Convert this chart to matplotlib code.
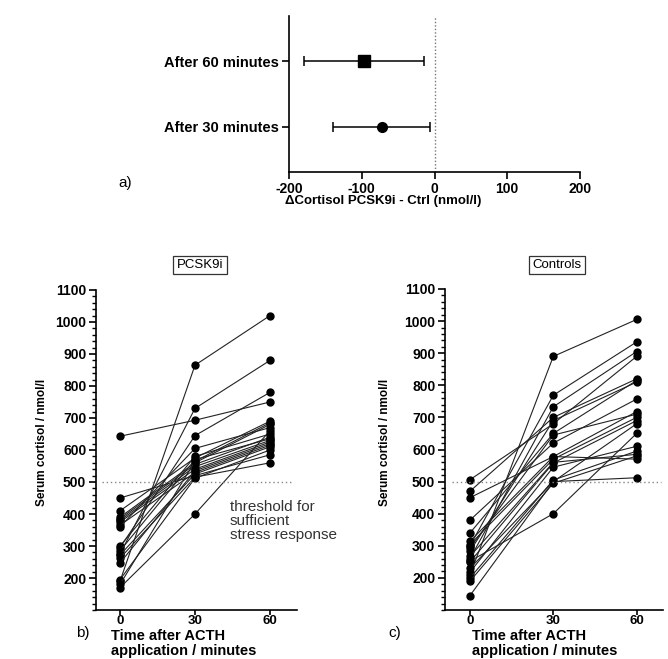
import matplotlib
matplotlib.use("Agg")
import matplotlib.pyplot as plt
from matplotlib.ticker import MultipleLocator

plt.rcParams['font.family'] = ['Liberation Sans', 'DejaVu Sans']

# ---- panel a: difference in cortisol (PCSK9i - Ctrl) with 95% CI ----
diff_labels = ["After 30 minutes", "After 60 minutes"]
diff_mean = [-72, -97]
diff_low = [-139, -179]
diff_high = [-6, -14]
diff_markers = ["o", "s"]

# ---- panels b/c: serum cortisol per subject at 0, 30, 60 min ----
times = [0, 30, 60]
pcsk9i = [
    [643, 693, 750], [190, 865, 1020], [275, 730, 880], [295, 645, 780],
    [170, 400, 660], [450, 520, 585], [410, 575, 690], [390, 560, 680],
    [385, 555, 640], [380, 548, 630], [375, 540, 625], [365, 530, 615],
    [360, 605, 670], [300, 580, 650], [285, 570, 635], [272, 525, 610],
    [262, 515, 560], [247, 535, 620], [195, 512, 600], [180, 565, 685],
]
controls = [
    [210, 890, 1005], [300, 769, 935], [260, 733, 905], [506, 680, 890],
    [470, 700, 820], [340, 650, 815], [283, 690, 810], [380, 620, 757],
    [450, 578, 718], [293, 645, 710], [304, 570, 700], [250, 558, 690],
    [145, 500, 680], [252, 400, 650], [218, 545, 610], [200, 505, 595],
    [267, 560, 585], [190, 495, 580], [314, 578, 570], [230, 500, 512],
]
threshold = 500

W, H = 668, 659
fig = plt.figure(figsize=(W / 100, H / 100), dpi=100)


def rect(l, t, r, b):
    return [l / W, 1 - b / H, (r - l) / W, (b - t) / H]


bold = dict(fontweight="bold")

# ---------------- panel a ----------------
ax = fig.add_axes(rect(289, 16, 580, 172))
for i, (m, lo, hi, mk) in enumerate(zip(diff_mean, diff_low, diff_high, diff_markers)):
    y = i + 1
    ax.errorbar([m], [y], xerr=[[m - lo], [hi - m]], fmt=mk, color="black",
                markersize=8 if mk == "s" else 7, capsize=3.5, elinewidth=1.1,
                capthick=1.1)
ax.axvline(0, color="#777777", linestyle=(0, (1, 1.5)), linewidth=1.0)
ax.set_xlim(-200, 200)
ax.set_ylim(0.31, 2.69)
ax.set_yticks([1, 2])
ax.set_yticklabels(diff_labels, fontsize=10.5, **bold)
ax.set_xticks([-200, -100, 0, 100, 200])
ax.set_xticklabels(["-200", "-100", "0", "100", "200"], fontsize=10, **bold)
for s in ["top", "right"]:
    ax.spines[s].set_visible(False)
for s in ["left", "bottom"]:
    ax.spines[s].set_linewidth(1.2)
ax.tick_params(axis="both", width=1.2, length=5, pad=2)
fig.text(383 / W, 1 - 201 / H, "\u0394Cortisol PCSK9i - Ctrl (nmol/l)",
         ha="center", va="center", fontsize=9.5, **bold)
fig.text(118 / W, 1 - 183 / H, "a)", fontsize=11, ha="left", va="center")


# ---------------- panels b and c ----------------
def cortisol_panel(box, data, title, title_x, xlim, ylabel_x, thr_span):
    a = fig.add_axes(rect(*box))
    for subj in data:
        a.plot(times, subj, color="#222222", linewidth=0.8, marker="o",
               markersize=5, markerfacecolor="black", markeredgecolor="black")
    a.axhline(threshold, xmin=thr_span[0], xmax=thr_span[1], color="#888888",
              linestyle=(0, (1, 2)), linewidth=1.0)
    a.set_xlim(*xlim)
    a.set_ylim(100, 1100)
    a.set_yticks(range(200, 1101, 100))
    a.yaxis.set_minor_locator(MultipleLocator(20))
    a.set_xticks(times)
    a.set_xticklabels([str(t) for t in times], fontsize=9.5, **bold)
    a.set_yticklabels([str(v) for v in range(200, 1101, 100)], fontsize=10, **bold)
    for s in ["top", "right"]:
        a.spines[s].set_visible(False)
    for s in ["left", "bottom"]:
        a.spines[s].set_linewidth(1.2)
    a.tick_params(axis="y", which="major", width=1.2, length=5, pad=2)
    a.tick_params(axis="x", which="major", width=1.2, length=3.5, pad=0)
    a.tick_params(axis="y", which="minor", width=1.0, length=3)
    fig.text(ylabel_x / W, 1 - 442 / H, "Serum cortisol / nmol/l", rotation=90,
             ha="center", va="center", fontsize=8.5, **bold)
    fig.text(title_x / W, 1 - 265 / H, title, ha="center", va="center",
             fontsize=9.5, bbox=dict(boxstyle="square,pad=0.25", fc="white",
                                     ec="#333333", lw=0.9))
    return a


cortisol_panel((96, 290, 297, 610), pcsk9i, "PCSK9i", 200, (-9.6, 70.8), 42,
               (0.03, 0.98))
cortisol_panel((445, 289, 663, 610), controls, "Controls", 557, (-9, 69.5), 385,
               (0.03, 0.99))

fig.text(230 / W, 1 - 500 / H, "threshold for\nsufficient\nstress response",
         ha="left", va="top", fontsize=11, color="#333333", linespacing=1.0)

fig.text(111 / W, 1 - 629.5 / H, "Time after ACTH\napplication / minutes",
         ha="left", va="top", fontsize=10.5, linespacing=1.0, **bold)
fig.text(472 / W, 1 - 629.5 / H, "Time after ACTH\napplication / minutes",
         ha="left", va="top", fontsize=10.5, linespacing=1.0, **bold)
fig.text(76 / W, 1 - 633 / H, "b)", fontsize=11, ha="left", va="center")
fig.text(388 / W, 1 - 633 / H, "c)", fontsize=11, ha="left", va="center")

fig.savefig("out.png", dpi=100, facecolor="white")
